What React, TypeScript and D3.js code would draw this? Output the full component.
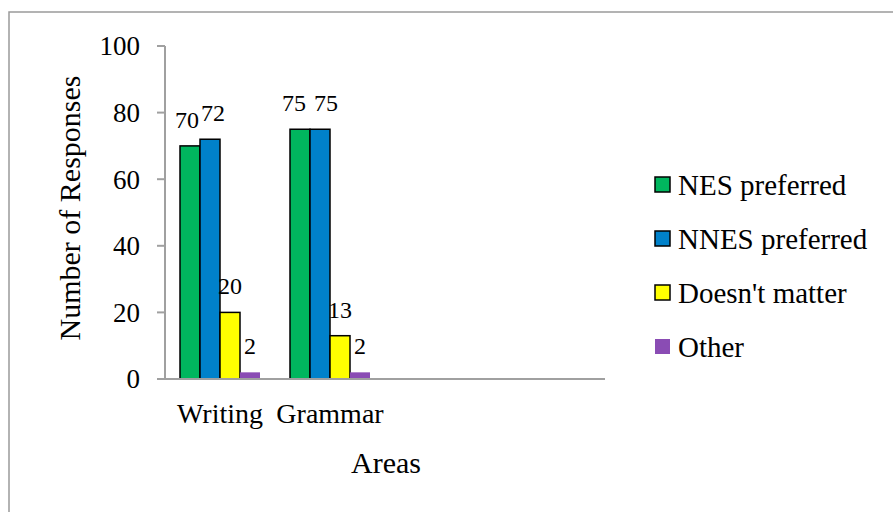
import React from "react";
import * as d3 from "d3";

const categories = ["Writing", "Grammar", "", " "];
const seriesNames = ["NES preferred", "NNES preferred", "Doesn't matter", "Other"];
const nesPreferred = [70, 75];
const nnesPreferred = [72, 75];
const doesntMatter = [20, 13];
const other = [2, 2];
const yTicks = [0, 20, 40, 60, 80, 100];
const colors = ["#00B65E", "#0081CA", "#FFFF00", "#8A4CB4"];
const strokes = ["#000", "#000", "#000", "none"];

const W = 893;
const H = 512;
const FONT = "Liberation Serif, Times New Roman, serif";

export default function App() {
  const series = [nesPreferred, nnesPreferred, doesntMatter, other];
  const x0 = d3.scaleBand<string>().domain(categories).range([165, 605]).paddingInner(0).paddingOuter(0);
  const x1 = d3
    .scaleBand<string>()
    .domain(seriesNames)
    .range([0, x0.bandwidth()])
    .paddingOuter(0.75)
    .paddingInner(0);
  const y = d3.scaleLinear().domain([0, 100]).range([379, 46]);

  type Lab = { x: number; y: number; text: string };
  const labelsByCat: Lab[][] = categories.slice(0, nesPreferred.length).map((c, ci) =>
    seriesNames.map((s, si) => ({
      x: (x0(c) as number) + (x1(s) as number) + x1.bandwidth() / 2,
      y: y(series[si][ci]) - 18,
      text: String(series[si][ci]),
    }))
  );
  labelsByCat.forEach((labs) => {
    for (let i = 0; i < labs.length - 1; i++) {
      const a = labs[i];
      const b = labs[i + 1];
      const wa = a.text.length * 12;
      const wb = b.text.length * 12;
      const dy = Math.abs(a.y - b.y);
      if (dy >= 20) continue;
      const need = (wa + wb) / 2 + (dy < 2 ? 8 : 2);
      if (b.x - a.x < need) {
        const mid = (a.x + b.x) / 2;
        a.x = mid - need / 2;
        b.x = mid + need / 2;
      }
    }
  });

  return (
    <svg width={W} height={H} style={{ position: "absolute", left: 0, top: 0, background: "#fff" }}>
      <rect x={0} y={0} width={W} height={H} fill="#fff" />
      <rect x={9} y={12} width={W + 20} height={H + 20} fill="none" stroke="#9a9a9a" strokeWidth={1.5} />

      <line x1={165} x2={165} y1={y(100)} y2={y(0)} stroke="#a0a0a0" strokeWidth={2} />
      {yTicks.map((t) => (
        <g key={t}>
          <line x1={157} x2={165} y1={y(t)} y2={y(t)} stroke="#a0a0a0" strokeWidth={2} />
          <text x={140} y={y(t)} dy="0.35em" textAnchor="end" fontFamily={FONT} fontSize={27} fill="#000">
            {t}
          </text>
        </g>
      ))}

      {categories.slice(0, nesPreferred.length).map((c, ci) => (
        <g key={c} transform={`translate(${x0(c)},0)`}>
          {seriesNames.map((s, si) => {
            const v = series[si][ci];
            return (
              <rect
                key={s}
                x={x1(s) as number}
                y={y(v)}
                width={x1.bandwidth()}
                height={y(0) - y(v)}
                fill={colors[si]}
                stroke={strokes[si]}
                strokeWidth={1.5}
              />
            );
          })}
        </g>
      ))}

      <line x1={165} x2={605} y1={y(0)} y2={y(0)} stroke="#a0a0a0" strokeWidth={2} />

      {labelsByCat.flat().map((l, i) => (
        <text key={i} x={l.x} y={l.y} textAnchor="middle" fontFamily={FONT} fontSize={24} fill="#000">
          {l.text}
        </text>
      ))}

      {categories.slice(0, nesPreferred.length).map((c) => (
        <text
          key={c}
          x={(x0(c) as number) + x0.bandwidth() / 2}
          y={423}
          textAnchor="middle"
          fontFamily={FONT}
          fontSize={28}
          fill="#000"
        >
          {c}
        </text>
      ))}

      <text x={386} y={473} textAnchor="middle" fontFamily={FONT} fontSize={30} fill="#000">
        Areas
      </text>
      <text
        transform={`translate(80,208) rotate(-90)`}
        textAnchor="middle"
        fontFamily={FONT}
        fontSize={30}
        fill="#000"
      >
        Number of Responses
      </text>

      {seriesNames.map((s, i) => {
        const cy = 185 + i * 54;
        return (
          <g key={s}>
            <rect x={655} y={cy - 8} width={15} height={15} fill={colors[i]} stroke={strokes[i]} strokeWidth={1.5} />
            <text x={678} y={cy} dy="0.35em" fontFamily={FONT} fontSize={29} fill="#000">
              {s}
            </text>
          </g>
        );
      })}
    </svg>
  );
}
